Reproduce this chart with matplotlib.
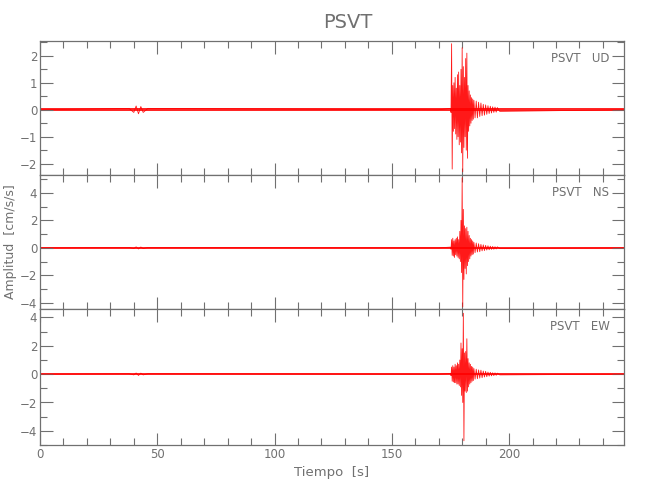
import numpy as np
import matplotlib
matplotlib.use('Agg')
import matplotlib.pyplot as plt
from matplotlib.ticker import MultipleLocator

plt.rcParams['font.family'] = ['Liberation Sans Narrow', 'DejaVu Sans']

station = 'PSVT'
components = ['UD', 'NS', 'EW']

# trace: quiet start/end, small blip near 42 s,
# main burst from ~175 s sampled every 0.25 s, coda every 0.5 s
quiet_t = [0, 38, 40, 41, 42, 43, 44, 46, 170]
ud_quiet = [0.0, 0.05, -0.1, 0.14, -0.15, 0.12, -0.1, 0.05, 0.0]
ns_quiet = [0.0, 0.03, -0.05, 0.07, -0.08, 0.06, -0.05, 0.03, 0.0]
ew_quiet = [0.0, 0.03, -0.05, 0.08, -0.09, 0.07, -0.05, 0.03, 0.0]

burst_t = [175.0, 175.25, 175.5, 175.75, 176.0, 176.25, 176.5, 176.75,
           177.0, 177.25, 177.5, 177.75, 178.0, 178.25, 178.5, 178.75,
           179.0, 179.25, 179.5, 179.75, 180.0, 180.25, 180.5, 180.75,
           181.0, 181.25, 181.5, 181.75, 182.0, 182.25, 182.5, 182.75,
           183.0, 183.25, 183.5, 183.75, 184.0, 184.25, 184.5, 184.75]
ud_burst = [0.05, -0.1, 2.45, -2.2, 0.9, -0.8, 1.0, -0.7,
            1.2, -0.9, 0.8, -1.1, 1.3, -1.0, 1.4, -1.3,
            0.9, -1.2, 1.5, -1.6, 2.3, -2.3, 1.6, -1.4,
            1.2, -1.0, 1.9, -1.5, 2.1, -1.8, 0.9, -0.8,
            0.7, -0.6, 0.55, -0.5, 0.45, -0.4, 0.4, -0.35]
ns_burst = [0.05, -0.1, 0.6, -0.55, 0.7, -0.6, 0.5, -0.7,
            0.6, -0.5, 0.7, -0.6, 0.8, -0.7, 0.6, -0.8,
            1.2, -1.0, 2.0, -1.8, 5.1, -4.3, 2.8, -2.3,
            1.6, -1.5, 1.4, -1.9, 1.5, -1.3, 1.2, -1.0,
            0.9, -0.8, 0.7, -0.6, 0.6, -0.5, 0.5, -0.45]
ew_burst = [0.05, -0.1, 0.5, -0.5, 0.6, -0.55, 0.5, -0.6,
            0.7, -0.6, 0.6, -0.7, 0.8, -0.7, 0.7, -0.8,
            1.0, -0.9, 2.2, -1.5, 1.8, -2.0, 4.3, -4.7,
            1.5, -1.2, 1.6, -1.3, 2.5, -1.2, 1.1, -0.9,
            0.8, -0.7, 0.7, -0.6, 0.55, -0.5, 0.5, -0.45]

coda_t = [185.0, 185.5, 186.0, 186.5, 187.0, 187.5, 188.0, 188.5,
          189.0, 189.5, 190.0, 190.5, 191.0, 191.5, 192.0, 192.5,
          193.0, 193.5, 194.0, 194.5, 195.0, 196.0, 250.0]
ud_coda = [0.35, -0.3, 0.32, -0.3, 0.28, -0.25, 0.25, -0.22,
           0.2, -0.2, 0.18, -0.17, 0.15, -0.14, 0.13, -0.12,
           0.11, -0.1, 0.1, -0.09, 0.08, -0.06, 0.0]
ns_coda = [0.4, -0.35, 0.35, -0.3, 0.3, -0.28, 0.25, -0.22,
           0.22, -0.2, 0.18, -0.16, 0.15, -0.14, 0.12, -0.11,
           0.1, -0.1, 0.08, -0.08, 0.07, -0.05, 0.0]
ew_coda = [0.4, -0.35, 0.35, -0.32, 0.3, -0.28, 0.28, -0.25,
           0.22, -0.2, 0.2, -0.18, 0.15, -0.14, 0.13, -0.12,
           0.1, -0.1, 0.09, -0.08, 0.07, -0.05, 0.0]

noise_level = [0.06, 0.07, 0.07]
ylims = [(-2.42, 2.55), (-4.45, 5.3), (-5.0, 4.6)]
ymajor = [1, 2, 2]
yminor = [0.5, 1, 1]

traces = [(ud_quiet, ud_burst, ud_coda),
          (ns_quiet, ns_burst, ns_coda),
          (ew_quiet, ew_burst, ew_coda)]

gray = '#707070'
fig = plt.figure(figsize=(6.5, 5), dpi=100)
bottoms = [0.65, 0.382, 0.11]
heights = [0.268, 0.268, 0.272]
axes = []
for i, comp in enumerate(components):
    ax = fig.add_axes([0.0615, bottoms[i], 0.8985, heights[i]])
    axes.append(ax)
    q, b, c = traces[i]
    t = quiet_t + burst_t + coda_t
    a = q + b + c
    ax.fill_between([0, 250], -noise_level[i], noise_level[i],
                    color='red', alpha=0.85, lw=0)
    ax.plot(t, a, color='red', lw=0.6, alpha=0.9)
    ax.set_xlim(0, 249)
    ax.set_ylim(*ylims[i])
    ax.xaxis.set_major_locator(MultipleLocator(50))
    ax.xaxis.set_minor_locator(MultipleLocator(10))
    ax.yaxis.set_major_locator(MultipleLocator(ymajor[i]))
    ax.yaxis.set_minor_locator(MultipleLocator(yminor[i]))
    ax.tick_params(which='both', direction='in', top=True, right=True,
                   colors=gray, labelsize=8.5, pad=2)
    ax.tick_params(which='major', length=9, width=0.8)
    ax.tick_params(which='minor', length=5, width=0.8)
    for s in ax.spines.values():
        s.set_color(gray)
        s.set_linewidth(0.9)
    ax.text(0.975, 0.87, station + '   ' + comp, transform=ax.transAxes,
            ha='right', va='center', fontsize=8.5, color=gray)
    if i < 2:
        ax.tick_params(labelbottom=False)

axes[2].set_xlabel('Tiempo  [s]', color=gray, fontsize=9.5, labelpad=4)
axes[1].set_ylabel('Amplitud  [cm/s/s]', color=gray, fontsize=9)
axes[1].yaxis.set_label_coords(-0.04, 0.5)
fig.text(0.535, 0.955, station, ha='center', va='center', fontsize=14,
         color=gray)

fig.savefig('out.png', dpi=100)
